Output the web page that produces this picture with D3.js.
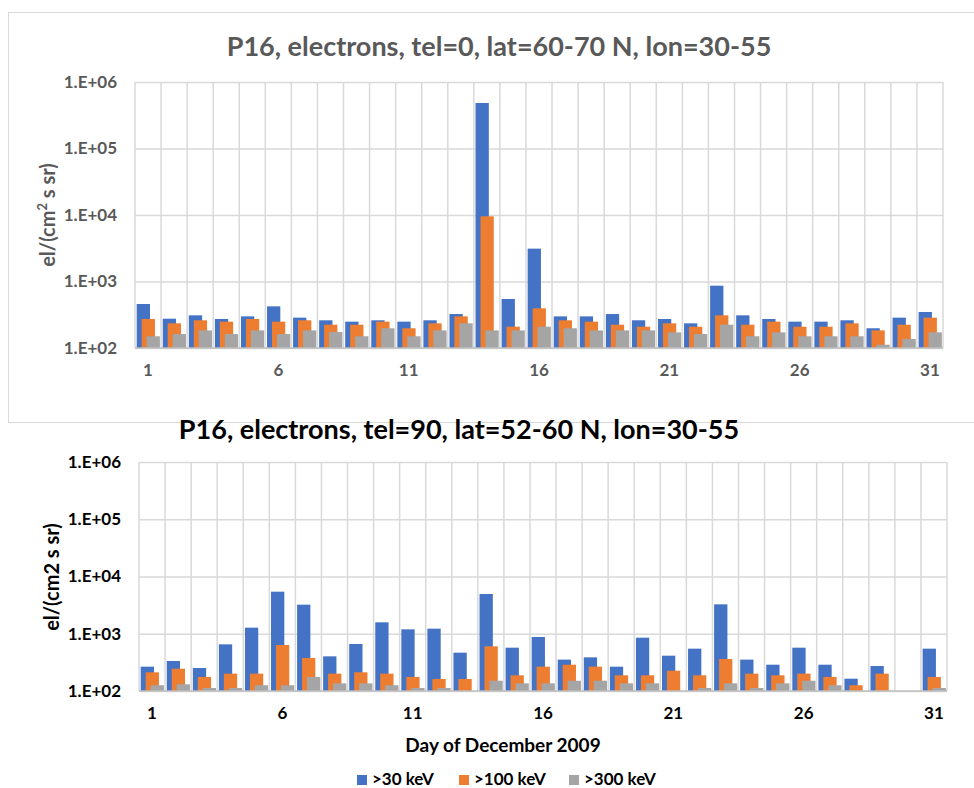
<!DOCTYPE html>
<html>
<head>
<meta charset="utf-8">
<script src="https://cdnjs.cloudflare.com/ajax/libs/d3/7.8.5/d3.min.js"></script>
<style>
  body { margin: 0; background: #fff; }
  text { font-family: Lato, "Open Sans", sans-serif; font-weight: bold; }
</style>
</head>
<body>
<div id="chart"></div>
<script>
// data (days of December 2009)
var days = d3.range(1, 32);
var seriesNames = ['>30 keV', '>100 keV', '>300 keV'];
var colors = ['#4472C4', '#ED7D31', '#A5A5A5'];
var yTicks = [1e2, 1e3, 1e4, 1e5, 1e6];
var xTickDays = [1, 6, 11, 16, 21, 26, 31];

// top panel: tel=0, lat=60-70 N
var topKev30 = [459, 276, 310, 273, 299, 423, 286, 261, 249, 261, 249, 261, 324, 483000, 546, 3120,
  299, 299, 324, 261, 273, 235, 865, 310, 273, 249, 249, 261, 198, 286, 348];
var topKev100 = [273, 235, 261, 249, 273, 249, 261, 224, 224, 249, 198, 235, 299, 9550, 209, 395,
  261, 249, 224, 209, 235, 209, 310, 224, 249, 209, 209, 235, 184, 224, 286];
var topKev300 = [150, 162, 184, 162, 184, 162, 184, 174, 150, 198, 150, 184, 235, 184, 184, 209,
  198, 184, 184, 184, 172, 162, 224, 150, 172, 150, 150, 150, 112, 137, 172];

// bottom panel: tel=90, lat=52-60 N (null = no measurable bar)
var botKev30 = [266, 334, 252, 653, 1277, 5430, 3220, 403, 662, 1583, 1194, 1227, 467, 4950, 571, 877,
  353, 387, 266, 854, 414, 549, 3265, 353, 288, 571, 288, 164, 273, null, 549];
var botKev100 = [212, 245, 176, 201, 201, 636, 377, 201, 212, 201, 176, 162, 162, 603, 188, 266,
  288, 266, 188, 188, 226, 188, 362, 201, 188, 201, 176, 126, 201, null, 176];
var botKev300 = [126, 131, 113, 113, 126, 126, 176, 136, 136, 126, 113, 113, null, 151, 136, 136,
  151, 151, 136, 136, null, 113, 136, 113, 136, 151, 126, null, null, null, 113];

var svg = d3.select('#chart').append('svg')
  .attr('width', 974)
  .attr('height', 788);

// light frame round the upper chart
svg.append('rect')
  .attr('x', 8.5).attr('y', 12.5)
  .attr('width', 980).attr('height', 410)
  .attr('fill', 'none')
  .attr('stroke', '#d9d9d9')
  .attr('stroke-width', 1);

var fmt = function(d) {
  var e = Math.round(Math.log10(d));
  return '1.E+' + (e < 10 ? '0' : '') + e;
};

function drawPanel(p) {
  var x = d3.scaleBand().domain(days).range([p.left, p.right]).padding(0);
  var y = d3.scaleLog().domain([100, 1e6]).range([p.bottom, p.top]);
  var bw = x.bandwidth();

  var g = svg.append('g');

  // horizontal grid + labels
  var yAxis = g.append('g')
    .attr('transform', `translate(${p.left},0)`)
    .call(d3.axisLeft(y).tickValues(yTicks).tickFormat(fmt)
      .tickSize(-(p.right - p.left)).tickPadding(p.tickPad));
  yAxis.select('.domain').remove();
  yAxis.selectAll('line').attr('stroke', '#d9d9d9').attr('stroke-width', 1.5);
  yAxis.selectAll('text')
    .attr('fill', p.textColor)
    .style('font-size', '17px');

  // vertical grid at category boundaries
  var edges = days.map(d => x(d)).concat([x(days[days.length - 1]) + bw]);
  g.selectAll('.vgrid')
    .data(edges)
    .enter()
    .append('line')
    .attr('x1', d => d).attr('x2', d => d)
    .attr('y1', p.top).attr('y2', p.bottom)
    .attr('stroke', '#d9d9d9')
    .attr('stroke-width', 1.5);

  // bars
  p.series.forEach(function(vals, i) {
    g.selectAll('.bar' + i)
      .data(days.filter((d, k) => vals[k] != null))
      .enter()
      .append('rect')
      .attr('x', d => x(d) + bw * 0.065 + i * bw * 0.19)
      .attr('width', bw * 0.51)
      .attr('y', d => y(vals[d - 1]))
      .attr('height', d => y(100) - y(vals[d - 1]))
      .attr('fill', colors[i]);
  });

  // x axis line
  g.append('line')
    .attr('x1', p.left).attr('x2', p.right)
    .attr('y1', p.bottom).attr('y2', p.bottom)
    .attr('stroke', '#bfbfbf')
    .attr('stroke-width', 1.5);

  var xAxis = g.append('g')
    .attr('transform', `translate(0,${p.bottom})`)
    .call(d3.axisBottom(x).tickValues(xTickDays).tickSize(0).tickPadding(16));
  xAxis.select('.domain').remove();
  xAxis.selectAll('text')
    .attr('fill', p.textColor)
    .style('font-size', '17px');

  // title
  g.append('text')
    .attr('x', p.titleX).attr('y', p.titleY)
    .attr('text-anchor', 'middle')
    .attr('fill', p.textColor)
    .style('font-size', '27px')
    .text(p.title);

  // y label
  var yl = g.append('text')
    .attr('transform', `translate(${p.yLabelX},${p.yLabelY}) rotate(-90)`)
    .attr('text-anchor', 'middle')
    .attr('fill', p.textColor)
    .style('font-size', '20px');
  if (p.sup) {
    yl.append('tspan').text('el/(cm');
    yl.append('tspan').attr('baseline-shift', 'super').style('font-size', '13px').text('2');
    yl.append('tspan').text(' s sr)');
  } else {
    yl.text('el/(cm2 s sr)');
  }
  return x;
}

drawPanel({
  left: 135, right: 943, top: 82, bottom: 348,
  series: [topKev30, topKev100, topKev300],
  textColor: '#595959', tickPad: 18,
  title: 'P16, electrons, tel=0, lat=60-70 N, lon=30-55',
  titleX: 499, titleY: 56,
  yLabelX: 55, yLabelY: 215, sup: true
});

drawPanel({
  left: 139, right: 947, top: 462, bottom: 691,
  series: [botKev30, botKev100, botKev300],
  textColor: '#000', tickPad: 18,
  title: 'P16, electrons, tel=90, lat=52-60 N, lon=30-55',
  titleX: 459, titleY: 439,
  yLabelX: 59, yLabelY: 577, sup: false
});

// x axis title for the lower chart
svg.append('text')
  .attr('x', 503).attr('y', 752)
  .attr('text-anchor', 'middle')
  .style('font-size', '19px')
  .text('Day of December 2009');

// legend
var legendX = [357, 459, 569];
var legend = svg.selectAll('.legend')
  .data(seriesNames)
  .enter()
  .append('g')
  .attr('transform', (d, i) => `translate(${legendX[i]},780)`);
legend.append('rect')
  .attr('x', 0).attr('y', -5)
  .attr('width', 10).attr('height', 10)
  .attr('fill', (d, i) => colors[i]);
legend.append('text')
  .attr('x', 15).attr('y', 5)
  .style('font-size', '17px')
  .text(d => d);
</script>
</body>
</html>
